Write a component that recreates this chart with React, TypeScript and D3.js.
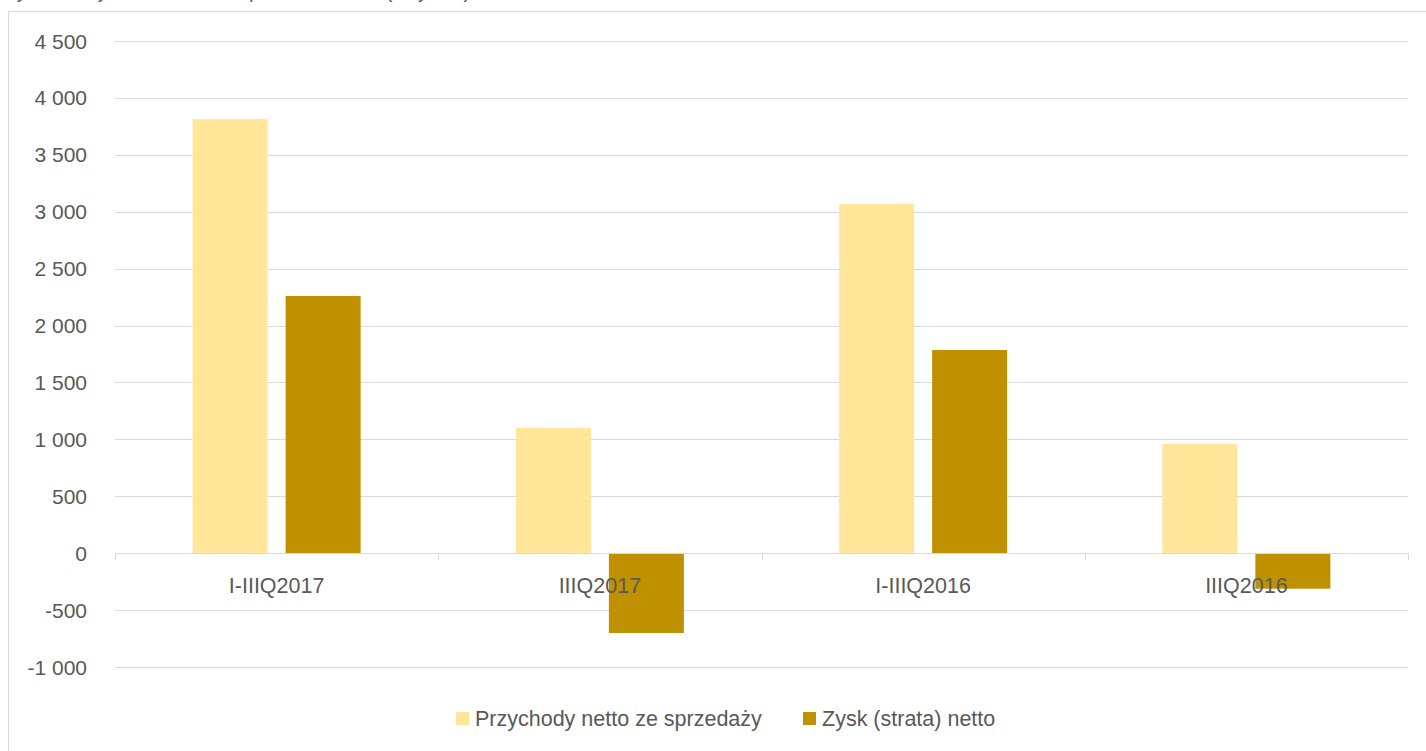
import React from "react";
import * as d3 from "d3";

const categories = ["I-IIIQ2017", "IIIQ2017", "I-IIIQ2016", "IIIQ2016"];
const seriesNames = ["Przychody netto ze sprzedaży", "Zysk (strata) netto"];
const przychody = [3815, 1100, 3068, 959];
const zysk = [2260, -701, 1785, -312];
const yTicks = [-1000, -500, 0, 500, 1000, 1500, 2000, 2500, 3000, 3500, 4000, 4500];
const colors = ["#FFE699", "#BF9000"];
const titleText = "Wybrane wyniki finansowe spółki w okresie (w tys. zł)";

const W = 1426;
const H = 751;
const FONT = "'Liberation Sans', Arial, sans-serif";

export default function App() {
  const left = 115;
  const right = 1408;
  const y = d3.scaleLinear().domain([-1000, 4500]).range([667, 41]);
  const x0 = d3.scaleBand().domain(categories).range([left, right]).paddingInner(0).paddingOuter(0);
  const x1 = d3.scaleBand().domain(["0", "1"]).range([0, x0.bandwidth()]).paddingInner(0.1935).paddingOuter(0.8347);
  const fmt = (v: number) => d3.format(",")(v).replace(/,/g, " ").replace("\u2212", "-");
  const series = [przychody, zysk];
  const legendItems = [
    { name: seriesNames[0], x: 456 },
    { name: seriesNames[1], x: 803 },
  ];
  return (
    <svg width={W} height={H} style={{ position: "absolute", left: 0, top: 0 }} fontFamily={FONT}>
      <rect x={0} y={0} width={W} height={H} fill="#fff" />
      <text x={-2} y={-2} fontSize={20} fill="#595959">{titleText}</text>
      <rect x={8.5} y={11.5} width={W + 10} height={H + 10} fill="none" stroke="#d9d9d9" strokeWidth={1} />
      {yTicks.map((t) => (
        <g key={t}>
          {t !== 0 && (
            <line x1={left} x2={right} y1={Math.round(y(t)) + 0.5} y2={Math.round(y(t)) + 0.5} stroke="#d9d9d9" strokeWidth={1} />
          )}
          <text x={87} y={y(t)} dy="0.36em" textAnchor="end" fontSize={21} fill="#595959">
            {fmt(t)}
          </text>
        </g>
      ))}
      {categories.map((c, i) =>
        series.map((s, j) => {
          const v = s[i];
          const bx = (x0(c) as number) + (x1(String(j)) as number);
          return (
            <rect
              key={c + j}
              x={bx}
              y={y(Math.max(0, v))}
              width={x1.bandwidth()}
              height={Math.abs(y(v) - y(0))}
              fill={colors[j]}
            />
          );
        })
      )}
      <line x1={left} x2={right} y1={Math.round(y(0)) + 0.5} y2={Math.round(y(0)) + 0.5} stroke="#d9d9d9" strokeWidth={1} />
      {d3.range(categories.length + 1).map((k) => {
        const xx = Math.round(left + k * x0.bandwidth()) + 0.5;
        return <line key={k} x1={xx} x2={xx} y1={y(0)} y2={y(0) + 7} stroke="#d9d9d9" strokeWidth={1} />;
      })}
      {categories.map((c) => (
        <text key={c} x={(x0(c) as number) + x0.bandwidth() / 2} y={593} textAnchor="middle" fontSize={21.5} fill="#595959">
          {c}
        </text>
      ))}
      {legendItems.map((l, j) => (
        <g key={l.name}>
          <rect x={l.x} y={712} width={13} height={13} fill={colors[j]} />
          <text x={l.x + 19} y={726} fontSize={21.5} fill="#595959">
            {l.name}
          </text>
        </g>
      ))}
    </svg>
  );
}
